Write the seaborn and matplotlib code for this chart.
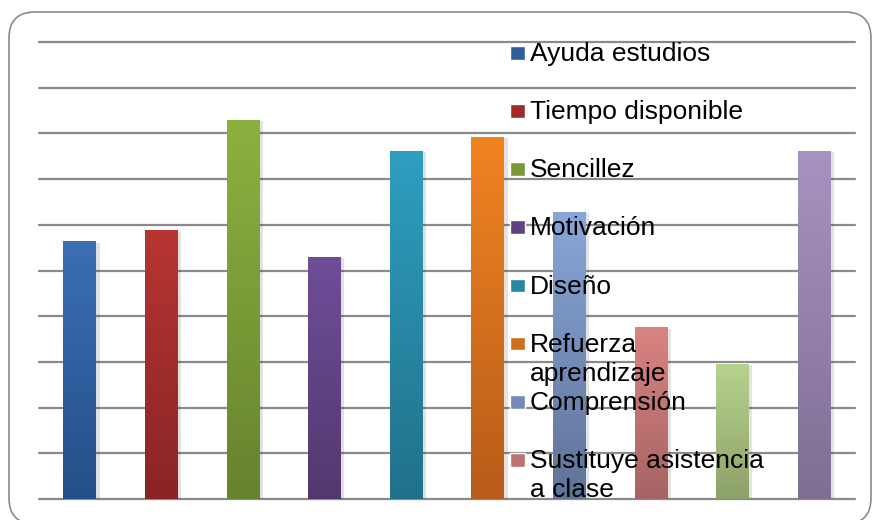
import numpy as np
import pandas as pd
import matplotlib
matplotlib.use("Agg")
import matplotlib.pyplot as plt
import matplotlib.patheffects as pe
import seaborn as sns
from matplotlib.colors import to_rgb
from matplotlib.patches import Patch, Rectangle, FancyBboxPatch
from matplotlib.legend_handler import HandlerPatch
from matplotlib.transforms import IdentityTransform

# Datos (escala 0-50, una línea cada 5)
categorias = ["Ayuda estudios", "Tiempo disponible", "Sencillez", "Motivación", "Diseño",
              "Refuerza aprendizaje", "Comprensión", "Sustituye asistencia a clase",
              "Serie 9", "Serie 10"]
valores = [28.2, 29.4, 41.5, 26.5, 38.1, 39.6, 31.4, 18.8, 14.8, 38.1]

# Texto de la leyenda tal como aparece (sólo se ven las 8 primeras entradas)
etiquetas_leyenda = ["Ayuda estudios", "Tiempo disponible", "Sencillez", "Motivación", "Diseño",
                     "Refuerza\naprendizaje", "Comprensión", "Sustituye asistencia\na clase"]

# Degradado de cada barra: color arriba / color abajo
color_arriba = ["#3A6FB6", "#B73533", "#8DB13F", "#6F4D99", "#2E9FC0",
                "#F18422", "#89A6D8", "#D98483", "#B8D28E", "#A693C1"]
color_abajo = ["#254F87", "#892524", "#67832E", "#53386F", "#21718A",
               "#B75C1A", "#5F7398", "#A56463", "#8DA268", "#7F6E93"]


def mezcla(c1, c2, t):
    a, b = np.array(to_rgb(c1)), np.array(to_rgb(c2))
    return tuple((1 - t) * a + t * b)


def cuadro_arriba(legend, orig_handle, xdescent, ydescent, width, height, fontsize):
    # coloca el cuadrito a la altura de la primera línea del texto
    return Rectangle((-xdescent, -ydescent + 0.6 * fontsize), width, height)


sns.set_style("white")
plt.rcParams["font.family"] = ["Liberation Sans", "DejaVu Sans"]

df = pd.DataFrame({"categoria": categorias, "valor": valores})

fig = plt.figure(figsize=(8.73, 5.2), dpi=100)
ax = fig.add_axes([39 / 873, 21 / 520, 816 / 873, 457 / 520])

paleta = {c: mezcla(b, t, 0.5) for c, t, b in zip(categorias, color_arriba, color_abajo)}
sns.barplot(data=df, x="categoria", y="valor", hue="categoria", palette=paleta,
            order=categorias, hue_order=categorias, width=0.4, errorbar=None,
            legend=False, ax=ax)

# Degradado vertical y sombra suave en cada barra
barras = sorted([p for p in ax.patches if isinstance(p, Rectangle)], key=lambda p: p.get_x())
t = np.linspace(0, 1, 256)[:, None]
for barra, c_top, c_bot in zip(barras, color_arriba, color_abajo):
    barra.set_edgecolor("none")
    barra.set_path_effects([pe.SimplePatchShadow(offset=(2.5, -1), alpha=0.13), pe.Normal()])
    x0, y0 = barra.get_x(), barra.get_y()
    w, h = barra.get_width(), barra.get_height()
    grad = (1 - t) * np.array(to_rgb(c_bot)) + t * np.array(to_rgb(c_top))
    img = ax.imshow(grad[:, None, :], extent=[x0, x0 + w, y0, y0 + h], origin="lower",
                    aspect="auto", interpolation="bilinear", zorder=barra.get_zorder() + 0.1)
    img.set_clip_path(barra)

ax.set_xlim(-0.5, len(categorias) - 0.5)
ax.set_ylim(0, 50)
ax.set_yticks(np.arange(0, 51, 5))
ax.set_xticks([])
ax.tick_params(length=0, labelleft=False)
ax.set_xlabel("")
ax.set_ylabel("")
ax.yaxis.grid(True, color="#8a8a8a", linewidth=1.6)
for linea in ax.get_ygridlines():
    linea.set_clip_on(False)
ax.set_axisbelow(True)
for s in ax.spines.values():
    s.set_visible(False)

# Leyenda superpuesta (cortada tras la octava entrada, como en el original)
n_ley = len(etiquetas_leyenda)
manejadores = [Patch(facecolor=mezcla(b, t_, 0.45))
               for t_, b in zip(color_arriba[:n_ley], color_abajo[:n_ley])]
textos = [e if "\n" in e else e + "\n" for e in etiquetas_leyenda]
leg = ax.legend(manejadores, textos, loc="upper left", bbox_to_anchor=(0.577, 1.0),
                frameon=False, fontsize=19, handlelength=0.57, handleheight=0.42,
                handletextpad=0.18, labelspacing=0.19, borderpad=0, borderaxespad=0,
                handler_map={Patch: HandlerPatch(patch_func=cuadro_arriba)})
for txt in leg.get_texts():
    txt.set_linespacing(1.27)
    txt.set_color("black")
leg.set_zorder(5)

# Marco redondeado del gráfico
marco = FancyBboxPatch((9, -4), 862, 512, boxstyle="round,pad=0,rounding_size=26",
                       transform=IdentityTransform(), facecolor="none",
                       edgecolor="#8a8a8a", linewidth=1.2)
fig.patches.append(marco)

fig.savefig("out.png", dpi=100)
plt.close(fig)
